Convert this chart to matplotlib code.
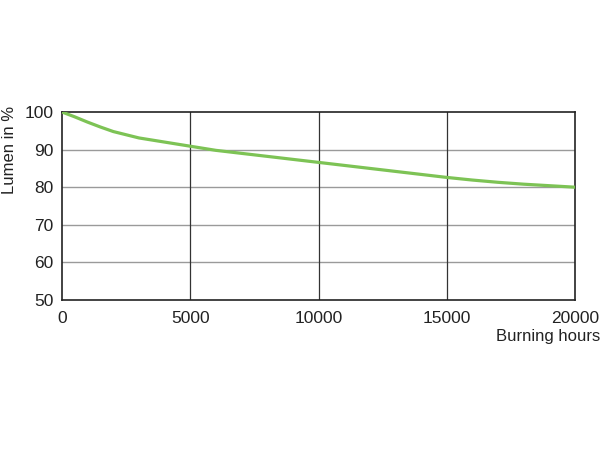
import matplotlib
matplotlib.use("Agg")
import matplotlib.pyplot as plt

hours = [0, 500, 1000, 1500, 2000, 3000, 4000, 5000, 6000, 7000, 8000, 9000, 10000,
         11000, 12000, 13000, 14000, 15000, 16000, 17000, 18000, 19000, 20000]
lumen = [100, 98.7, 97.3, 96.0, 94.8, 93.1, 92.0, 90.9, 89.8, 89.0, 88.2, 87.4, 86.6,
         85.8, 85.0, 84.2, 83.4, 82.6, 81.9, 81.3, 80.8, 80.4, 80.0]
xticks = [0, 5000, 10000, 15000, 20000]
yticks = [50, 60, 70, 80, 90, 100]

plt.rcParams['font.family'] = ['Liberation Sans', 'DejaVu Sans']
fig = plt.figure(figsize=(6, 4.5), dpi=100)
ax = fig.add_axes([62/600, 1-300/450, (575-62)/600, (300-112)/450])

for y in yticks[1:-1]:
    ax.axhline(y, color='#9a9a9a', lw=1.0, zorder=1)
for x in xticks[1:-1]:
    ax.axvline(x, color='#333333', lw=0.9, zorder=1)

ax.plot(hours, lumen, color='#7dc355', lw=2.3, zorder=3, solid_capstyle='butt')
ax.set_xlim(0, 20000)
ax.set_ylim(50, 100)
ax.set_xticks(xticks)
ax.set_yticks(yticks)
ax.tick_params(axis='x', length=0, labelsize=12.5, colors='#222222', pad=8)
ax.tick_params(axis='y', length=0, labelsize=12.5, colors='#222222', pad=6)
for s in ax.spines.values():
    s.set_color('#222222')
    s.set_linewidth(1.2)

fig.text(10/600, 1-150/450, 'Lumen in %', rotation=90, ha='center', va='center',
         fontsize=12, color='#222222')
fig.text(1.0, 1-337/450, 'Burning hours', ha='right', va='center',
         fontsize=12, color='#222222')

fig.savefig('out.png', dpi=100)
